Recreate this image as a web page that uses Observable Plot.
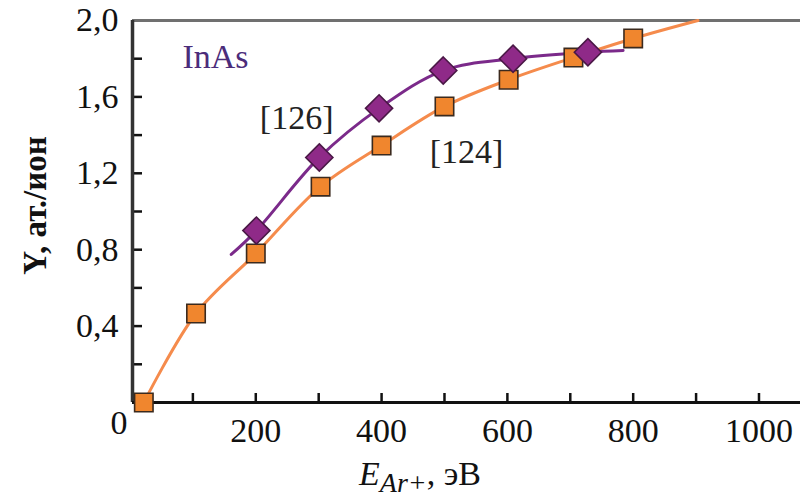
<!DOCTYPE html>
<html>
<head>
<meta charset="utf-8">
<script src="https://cdn.jsdelivr.net/npm/d3@7"></script>
<script src="https://cdn.jsdelivr.net/npm/@observablehq/plot@0.6"></script>
<style>
  html, body { margin: 0; padding: 0; background: #fff; }
  #chart { width: 800px; height: 500px; }
</style>
</head>
<body>
<div id="chart"></div>
<script>
// ---- data ----
const xDomain = [4, 1066];
const yDomain = [0, 2.0];

const xMinorTicks = [100, 200, 300, 400, 500, 600, 700, 800, 900, 1000];
const xTickLabels = [200, 400, 600, 800, 1000];
const yMinorTicks = [0.2, 0.4, 0.6, 0.8, 1.0, 1.2, 1.4, 1.6, 1.8];
const yTickLabels = [0.4, 0.8, 1.2, 1.6, 2.0];

// [124] series (orange squares)
const energy124 = [22, 105, 200, 303, 400, 500, 602, 705, 800];
const yield124  = [0.0, 0.466, 0.78, 1.13, 1.345, 1.55, 1.69, 1.806, 1.906];
// fitted line through [124] (extends to the top of the frame)
const lineX124 = [22, 105, 200, 303, 400, 500, 602, 705, 800, 903];
const lineY124 = [0.0, 0.466, 0.78, 1.13, 1.345, 1.55, 1.69, 1.806, 1.906, 2.0];

// [126] series (purple diamonds)
const energy126 = [201, 301, 396, 498, 609, 728];
const yield126  = [0.90, 1.283, 1.54, 1.738, 1.80, 1.834];
// fitted line through [126]
const lineX126 = [161, 201, 301, 396, 498, 609, 728, 784];
const lineY126 = [0.775, 0.90, 1.283, 1.54, 1.738, 1.80, 1.834, 1.843];

// in-plot annotations
const annText = ["InAs", "[126]", "[124]"];
const annX    = [136, 265, 535];
const annY    = [1.81, 1.49, 1.31];
const annColor = ["#4b2c7a", "#222", "#222"];

const yAxisTitle = "Y, ат./ион";
const originLabel = "0";

// ---- tables built from arrays ----
const pts124 = energy124.map((x, i) => ({x, y: yield124[i]}));
const pts126 = energy126.map((x, i) => ({x, y: yield126[i]}));
const ln124 = lineX124.map((x, i) => ({x, y: lineY124[i]}));
const ln126 = lineX126.map((x, i) => ({x, y: lineY126[i]}));
const ann = annText.map((t, i) => ({t, x: annX[i], y: annY[i], c: annColor[i]}));

const fmtY = d => yTickLabels.some(v => Math.abs(v - d) < 1e-9) ? d.toFixed(1).replace(".", ",") : "";
const fmtX = d => xTickLabels.includes(d) ? String(d) : "";

const diamond = {
  draw(context, size) {
    const s = Math.sqrt(size) * 0.75;
    context.moveTo(0, -s);
    context.lineTo(s, 0);
    context.lineTo(0, s);
    context.lineTo(-s, 0);
    context.closePath();
  }
};

const FONT = "'Liberation Serif', 'Times New Roman', serif";

const chart = Plot.plot({
  width: 800,
  height: 500,
  marginLeft: 132,
  marginRight: 0,
  marginTop: 20,
  marginBottom: 98,
  style: {fontFamily: FONT, background: "#fff", color: "#111"},
  x: {domain: xDomain},
  y: {domain: yDomain},
  marks: [
    // axes: inside ticks (shifted inward) + labels
    Plot.axisX({ticks: xMinorTicks, tickSize: 9, dy: -9, tickPadding: 15, strokeWidth: 2.5,
                fontSize: 34, label: null, tickFormat: fmtX}),
    Plot.axisY({ticks: [...yMinorTicks, 2.0], tickSize: 10, dx: 10, tickPadding: 14, strokeWidth: 2.5,
                fontSize: 34, label: null, tickFormat: fmtY}),
    Plot.text([originLabel], {frameAnchor: "bottom-left", text: d => d, dx: -5, dy: 21,
                fontSize: 34, textAnchor: "end", lineAnchor: "middle"}),
    // frame lines
    Plot.ruleY([yDomain[1]], {stroke: "#707070", strokeWidth: 3}),
    Plot.ruleX([xDomain[0]], {stroke: "#333", strokeWidth: 3.5}),
    Plot.ruleY([yDomain[0]], {stroke: "#111", strokeWidth: 3}),
    // lines
    Plot.line(ln124, {x: "x", y: "y", stroke: "#f58b4c", strokeWidth: 3, curve: "catmull-rom"}),
    Plot.line(ln126, {x: "x", y: "y", stroke: "#7b2a8a", strokeWidth: 3, curve: "catmull-rom"}),
    // markers
    Plot.dot(pts124, {x: "x", y: "y", symbol: "square", r: 10.4, fill: "#f0862e", stroke: "#3b2a1e", strokeWidth: 1.6}),
    Plot.dot(pts126, {x: "x", y: "y", symbol: diamond, r: 10.2, fill: "#8f2a88", stroke: "#4a1846", strokeWidth: 1.6}),
    // annotations
    Plot.text(ann, {x: "x", y: "y", text: "t", fill: "c", fontSize: 34}),
    // y axis title
    Plot.text([yAxisTitle], {frameAnchor: "left", text: d => d, rotate: -90, dx: -97, dy: -6,
                textAnchor: "middle", lineAnchor: "middle", fontSize: 33, fontWeight: "bold", fill: "#111"})
  ]
});

// x axis title with subscript
const svg = d3.select(chart);
const xt = svg.append("text")
  .attr("x", 420).attr("y", 485)
  .attr("font-family", FONT)
  .attr("font-size", 34)
  .attr("fill", "#111");
xt.append("tspan").attr("font-style", "italic").text("E");
xt.append("tspan").attr("font-style", "italic").attr("font-size", 28).attr("dy", 7).text("Ar+");
xt.append("tspan").attr("dy", -7).text(", эВ");

document.getElementById("chart").appendChild(chart);
</script>
</body>
</html>
